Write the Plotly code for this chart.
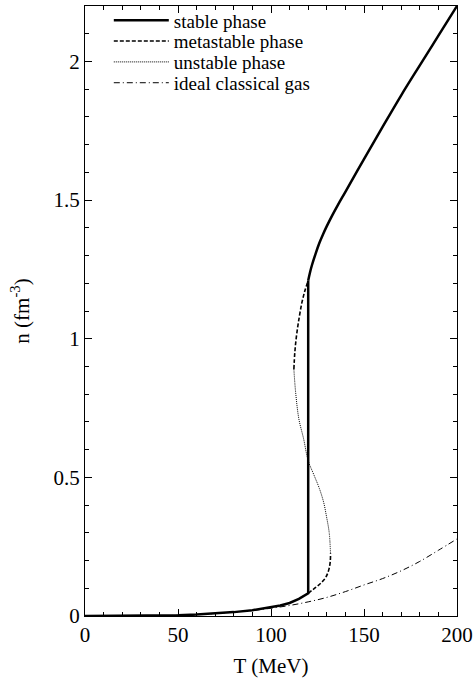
import plotly.graph_objects as go

# lower stable branch (below the jump) and upper stable branch
T_low = [0, 20, 30, 40, 50, 60, 70, 80, 90, 100, 105, 110, 115, 120, 120]
n_low = [0, 0.0001, 0.0003, 0.001, 0.0025, 0.005, 0.009, 0.014, 0.021, 0.031, 0.038, 0.047, 0.062, 0.082, 1.21]
T_up = [120, 121, 122, 124, 126, 128, 130, 133, 136, 140, 150, 160, 170, 180, 190, 200]
n_up = [1.21, 1.24, 1.265, 1.307, 1.345, 1.377, 1.406, 1.446, 1.483, 1.53, 1.648, 1.764, 1.878, 1.986, 2.093, 2.2]

# metastable branches
T_meta_lo = [120, 124, 127, 129.5, 131.2, 131.9, 132]
n_meta_lo = [0.082, 0.103, 0.12, 0.14, 0.17, 0.2, 0.225]
T_meta_hi = [112.3, 112.8, 113.7, 115, 116.6, 118.3, 120]
n_meta_hi = [0.89, 0.95, 1.01, 1.07, 1.13, 1.175, 1.21]

# unstable branch
T_unst = [132, 131.3, 129.8, 128.3, 126, 123, 120, 117.5, 115, 113.2, 112.3]
n_unst = [0.225, 0.3, 0.36, 0.41, 0.46, 0.51, 0.56, 0.64, 0.71, 0.81, 0.89]

# ideal classical gas
T_ideal = [0, 30, 50, 70, 90, 100, 110, 120, 130, 140, 150, 160, 170, 180, 190, 200]
n_ideal = [0, 0.0003, 0.0025, 0.009, 0.02, 0.028, 0.038, 0.051, 0.067, 0.088, 0.112, 0.135, 0.163, 0.197, 0.237, 0.278]

serif = 'Liberation Serif'

fig = go.Figure()

fig.add_trace(go.Scatter(x=T_low, y=n_low, mode='lines', name='stable phase', legendgroup='st',
                         legend='legend', line=dict(color='black', width=2.5)))
fig.add_trace(go.Scatter(x=T_up, y=n_up, mode='lines', name='stable phase', legendgroup='st',
                         showlegend=False, line=dict(color='black', width=2.5, shape='spline')))
fig.add_trace(go.Scatter(x=T_meta_lo + [None] + T_meta_hi, y=n_meta_lo + [None] + n_meta_hi,
                         mode='lines', name='metastable phase', legend='legend2',
                         line=dict(color='black', width=1.6, dash='4px,2px', shape='spline')))
fig.add_trace(go.Scatter(x=T_unst, y=n_unst, mode='lines', name='unstable phase', legend='legend3',
                         line=dict(color='black', width=1, dash='1px,1px', shape='spline')))
fig.add_trace(go.Scatter(x=T_ideal, y=n_ideal, mode='lines', name='ideal classical gas', legend='legend4',
                         line=dict(color='black', width=1, dash='6px,3px,1px,3px', shape='spline')))

axis_style = dict(showgrid=False, zeroline=False, showline=True, linecolor='black', linewidth=1,
                  mirror='ticks', ticks='inside', ticklen=7, tickcolor='black',
                  ticklabeloverflow='allow',
                  tickfont=dict(family=serif, size=21, color='black'))

fig.update_xaxes(range=[0, 200], dtick=50, title=dict(text='T (MeV)', standoff=12,
                 font=dict(family=serif, size=21, color='black')),
                 minor=dict(dtick=10, ticks='inside', ticklen=4, tickcolor='black'), **axis_style)
fig.update_yaxes(range=[0, 2.2], tickvals=[0, 0.5, 1, 1.5, 2], ticktext=['0', '0.5', '1', '1.5', '2'],
                 title=dict(text='n (fm<sup>-3</sup>)', standoff=18,
                            font=dict(family=serif, size=21, color='black')),
                 minor=dict(dtick=0.1, ticks='inside', ticklen=4, tickcolor='black'), **axis_style)

leg = dict(x=0.064, xanchor='left', yanchor='middle', bgcolor='rgba(0,0,0,0)',
           font=dict(family=serif, size=19, color='black'), itemwidth=55)
row_px = [15.5, 36.5, 57.5, 78.5]
fig.update_layout(
    width=474, height=678,
    margin=dict(l=85, r=15, t=1, b=62),
    plot_bgcolor='white', paper_bgcolor='white',
    legend=dict(leg, y=(616 - row_px[0]) / 615),
    legend2=dict(leg, y=(616 - row_px[1]) / 615),
    legend3=dict(leg, y=(616 - row_px[2]) / 615),
    legend4=dict(leg, y=(616 - row_px[3]) / 615),
)

fig.write_html("out.html", config={'displayModeBar': False},
               post_script="document.body.style.margin='0';")
